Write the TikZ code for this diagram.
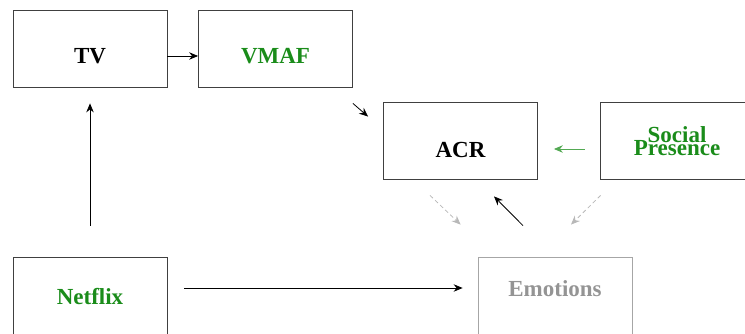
\documentclass[tikz,border=0pt]{standalone}
\usepackage{fontspec}
\setmainfont{Liberation Serif}
\usepackage{xcolor}
\usetikzlibrary{arrows.meta,positioning}
\definecolor{darkgreen}{RGB}{26,140,26}

\begin{document}
\begin{tikzpicture}[x=1pt, y=-1pt,
    box/.style={rectangle, draw=black!75, line width=0.8pt, minimum width=154pt, minimum height=77pt, inner sep=0pt},
    txt/.style={font={\fontsize{23}{27.6}\selectfont\bfseries}, align=center, inner sep=0pt},
    arr/.style={-{Stealth[length=9pt,width=7.5pt,inset=3pt]}, line width=0.8pt},
    faded/.style={arr, black!28, dash pattern=on 4pt off 3pt}]
  \useasboundingbox (0,0) rectangle (745,334);

  \node (tv) at (90, 48.5) [box, label={[txt, yshift=-7.5pt]center:TV}] {};
  \node (vmaf) at (275.5, 48.5) [box, label={[txt, darkgreen, yshift=-7.5pt]center:VMAF}] {};
  \node (acr) at (460.5, 140.5) [box, label={[txt, yshift=-9.5pt]center:ACR}] {};
  \node (social) at (677, 140.5) [box, label={[txt, darkgreen, yshift=-0.5pt]center:Social\\[-14pt]Presence}] {};
  \node (netflix) at (90, 295.5) [box, label={[txt, darkgreen, yshift=-1.5pt]center:Netflix}] {};
  \node (emotions) at (555, 295.5) [box, draw=black!35, label={[txt, black!42, yshift=7pt]center:Emotions}] {};

  \draw [arr] ([yshift=-7.5pt]tv.east) -- ([yshift=-7.5pt]vmaf.west);
  \draw [arr] ([yshift=-16pt]vmaf.south east) -- ([xshift=-15pt, yshift=-15pt]acr.north west);
  \draw [arr, shorten <=31pt, shorten >=16pt] (netflix.north) -- (tv.south);
  \draw [arr, darkgreen!75, shorten <=15pt, shorten >=16pt] ([yshift=-8.5pt]social.west) -- ([yshift=-8.5pt]acr.east);
  \draw [arr, shorten <=17pt, shorten >=15pt] ([yshift=7.5pt]netflix.east) -- ([yshift=7.5pt]emotions.west);
  \draw [arr] ([xshift=-32pt, yshift=31pt]emotions.north) -- ([xshift=33.5pt, yshift=-17pt]acr.south);
  \draw [faded] ([xshift=-30.5pt, yshift=-16pt]acr.south) -- ([xshift=-17pt, yshift=32pt]emotions.north west);
  \draw [faded] ([xshift=1pt, yshift=-16pt]social.south west) -- ([xshift=16pt, yshift=32pt]emotions.north);
\end{tikzpicture}
\end{document}
